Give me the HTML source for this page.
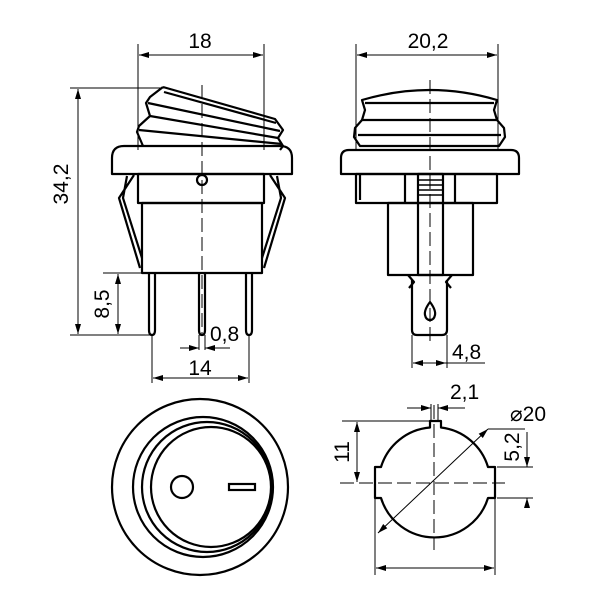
<!DOCTYPE html>
<html><head><style>html,body{margin:0;padding:0;background:#fff}svg{display:block}</style></head>
<body>
<svg width="600" height="600" viewBox="0 0 600 600" xmlns="http://www.w3.org/2000/svg" font-family="Liberation Sans, sans-serif">
<defs>
<marker id="a" viewBox="0 0 10 6" refX="10" refY="3" markerWidth="10" markerHeight="6" orient="auto-start-reverse" markerUnits="userSpaceOnUse"><path d="M0,0L10,3L0,6z" fill="#000"/></marker>
</defs>
<g fill="none" stroke="#000" stroke-width="1">
<line x1="138" y1="44" x2="138" y2="150"/><line x1="264" y1="44" x2="264" y2="150"/>
<line x1="139" y1="55" x2="263" y2="55" marker-start="url(#a)" marker-end="url(#a)"/>
<line x1="70" y1="88" x2="165" y2="88"/><line x1="70" y1="335" x2="152" y2="335"/>
<line x1="78" y1="89" x2="78" y2="334" marker-start="url(#a)" marker-end="url(#a)"/>
<line x1="103" y1="273" x2="145" y2="273"/>
<line x1="118" y1="274" x2="118" y2="334" marker-start="url(#a)" marker-end="url(#a)"/>
<line x1="152" y1="335" x2="152" y2="383"/><line x1="249" y1="335" x2="249" y2="383"/>
<line x1="153" y1="378" x2="248" y2="378" marker-start="url(#a)" marker-end="url(#a)"/>
<line x1="180" y1="348" x2="199" y2="348" marker-end="url(#a)"/>
<line x1="230" y1="348" x2="205" y2="348" marker-end="url(#a)"/>
<line x1="199" y1="335" x2="199" y2="350"/><line x1="205" y1="335" x2="205" y2="350"/>
<line x1="202" y1="85" x2="202" y2="335" stroke-dasharray="14,5"/>
</g>
<g fill="none" stroke="#000" stroke-width="2.2" stroke-linejoin="round">
<path d="M163,87 L275,119 L283,130 L278,138 L283,146 L280,150 M163,87 L150,97 L146,103 L150,116 L139,126 L137,132 L143,146"/>
<line x1="164" y1="92" x2="276" y2="123"/>
<line x1="148" y1="103" x2="280" y2="131"/>
<line x1="150" y1="116" x2="278" y2="138"/>
<line x1="139" y1="130" x2="282" y2="144"/>
<path d="M112,174 L112,158 Q112,146 124,146 L280,146 Q292,146 292,158 L292,174 Z"/>
<rect x="138" y="174" width="126" height="29"/>
<rect x="142" y="203" width="120" height="70"/>
<circle cx="202" cy="180" r="5"/>
<path d="M134,175 L119,198 L140,268 M127,176 L123,198 L142,258"/>
<path d="M270,175 L285,198 L264,268 M277,176 L281,198 L262,258"/>
<path d="M149,273 V330 Q149,335 152,335 Q155,335 155,330 V273"/>
<path d="M199,273 V330 Q199,335 202,335 Q205,335 205,330 V273"/>
<path d="M246,273 V330 Q246,335 249,335 Q252,335 252,330 V273"/>
</g>
<g font-size="21" fill="#000">
<text x="200" y="48" text-anchor="middle">18</text>
<text x="200" y="375" text-anchor="middle">14</text>
<text x="210" y="341">0,8</text>
<text transform="translate(68,184) rotate(-90)" text-anchor="middle">34,2</text>
<text transform="translate(109,304) rotate(-90)" text-anchor="middle">8,5</text>
<text x="428" y="48" text-anchor="middle">20,2</text>
<text x="452" y="359">4,8</text>
<text x="450" y="399">2,1</text>
<text x="510" y="421">⌀20</text>
<text transform="translate(349,452) rotate(-90)" text-anchor="middle">11</text>
<text transform="translate(519,447) rotate(-90)" text-anchor="middle">5,2</text>
</g>
<g fill="none" stroke="#000" stroke-width="1">
<line x1="356" y1="44" x2="356" y2="150"/><line x1="498" y1="44" x2="498" y2="150"/>
<line x1="357" y1="55" x2="497" y2="55" marker-start="url(#a)" marker-end="url(#a)"/>
<line x1="430" y1="80" x2="430" y2="345" stroke-dasharray="14,5"/>
<line x1="412" y1="335" x2="412" y2="368"/><line x1="447" y1="335" x2="447" y2="368"/>
<line x1="413" y1="363" x2="446" y2="363" marker-start="url(#a)" marker-end="url(#a)"/>
<line x1="446" y1="363" x2="485" y2="363"/>
</g>
<g fill="none" stroke="#000" stroke-width="2.2" stroke-linejoin="round">
<path d="M362,100 Q430,80 497,100 L494,110 L497,120 L362,120 L365,110 Z"/>
<line x1="365" y1="103" x2="494" y2="103"/>
<path d="M362,120 L355,128 L354,137 L360,146 L499,146 L505,137 L504,128 L497,120"/>
<line x1="358" y1="135" x2="501" y2="135"/>
<path d="M341,174 L341,158 Q341,150 349,150 L511,150 Q519,150 519,158 L519,174 Z"/>
<rect x="356" y="174" width="141" height="29"/>
<line x1="360" y1="174" x2="360" y2="200"/>
<line x1="405" y1="174" x2="405" y2="203"/><line x1="455" y1="174" x2="455" y2="203"/>
<rect x="388" y="203" width="85" height="72"/>
<rect x="418" y="174" width="25" height="101"/>
<g stroke-width="1.5"><line x1="419" y1="180" x2="442" y2="180"/><line x1="419" y1="185" x2="442" y2="185"/><line x1="419" y1="190" x2="442" y2="190"/><line x1="419" y1="195" x2="442" y2="195"/></g>
<path d="M412,280 V330 Q412,335 417,335 H442 Q447,335 447,330 V280"/>
<path d="M408,275 L414,282 L409,288 M452,275 L446,282 L451,288"/>
<path d="M430,302 Q424,310 425,315 Q426,320 430,320 Q434,320 435,315 Q436,310 430,302 Z"/>
</g>
<g fill="none" stroke="#000" stroke-width="2.2">
<circle cx="200" cy="487" r="88"/>
<circle cx="203" cy="487" r="70"/>
<circle cx="207" cy="487" r="65"/>
<circle cx="211" cy="487" r="60"/>
<circle cx="182" cy="487" r="11"/>
<rect x="229" y="484" width="26" height="6"/>
</g>
<g fill="none" stroke="#000" stroke-width="1">
<line x1="342" y1="421" x2="430" y2="421"/>
<line x1="357" y1="422" x2="357" y2="482" marker-start="url(#a)" marker-end="url(#a)"/>
<line x1="340" y1="483" x2="505" y2="483" stroke-dasharray="14,5"/>
<line x1="434" y1="405" x2="434" y2="550" stroke-dasharray="14,5"/>
<line x1="407" y1="408" x2="431" y2="408" marker-end="url(#a)"/>
<line x1="465" y1="408" x2="438" y2="408" marker-end="url(#a)"/>
<line x1="431" y1="404" x2="431" y2="421"/><line x1="438" y1="404" x2="438" y2="421"/>
<line x1="378" y1="533" x2="488" y2="429" marker-start="url(#a)" marker-end="url(#a)"/>
<line x1="488" y1="429" x2="525" y2="429"/>
<line x1="497" y1="467" x2="533" y2="467"/><line x1="497" y1="498" x2="533" y2="498"/>
<line x1="527" y1="432" x2="527" y2="467" marker-end="url(#a)"/>
<line x1="527" y1="508" x2="527" y2="498" marker-end="url(#a)"/>
<line x1="375" y1="498" x2="375" y2="575"/><line x1="495" y1="498" x2="495" y2="575"/>
<line x1="376" y1="568" x2="494" y2="568" marker-start="url(#a)" marker-end="url(#a)"/>
</g>
<path fill="none" stroke="#000" stroke-width="2.2" stroke-linejoin="round" d="M430,421 L441,421 L441,427.5 A56,56 0 0 1 488,467 L495,467 L495,498 L488,498 A56,56 0 0 1 381,498 L375,498 L375,467 L381,467 A56,56 0 0 1 430,427.5 Z"/>
</svg>
</body></html>
